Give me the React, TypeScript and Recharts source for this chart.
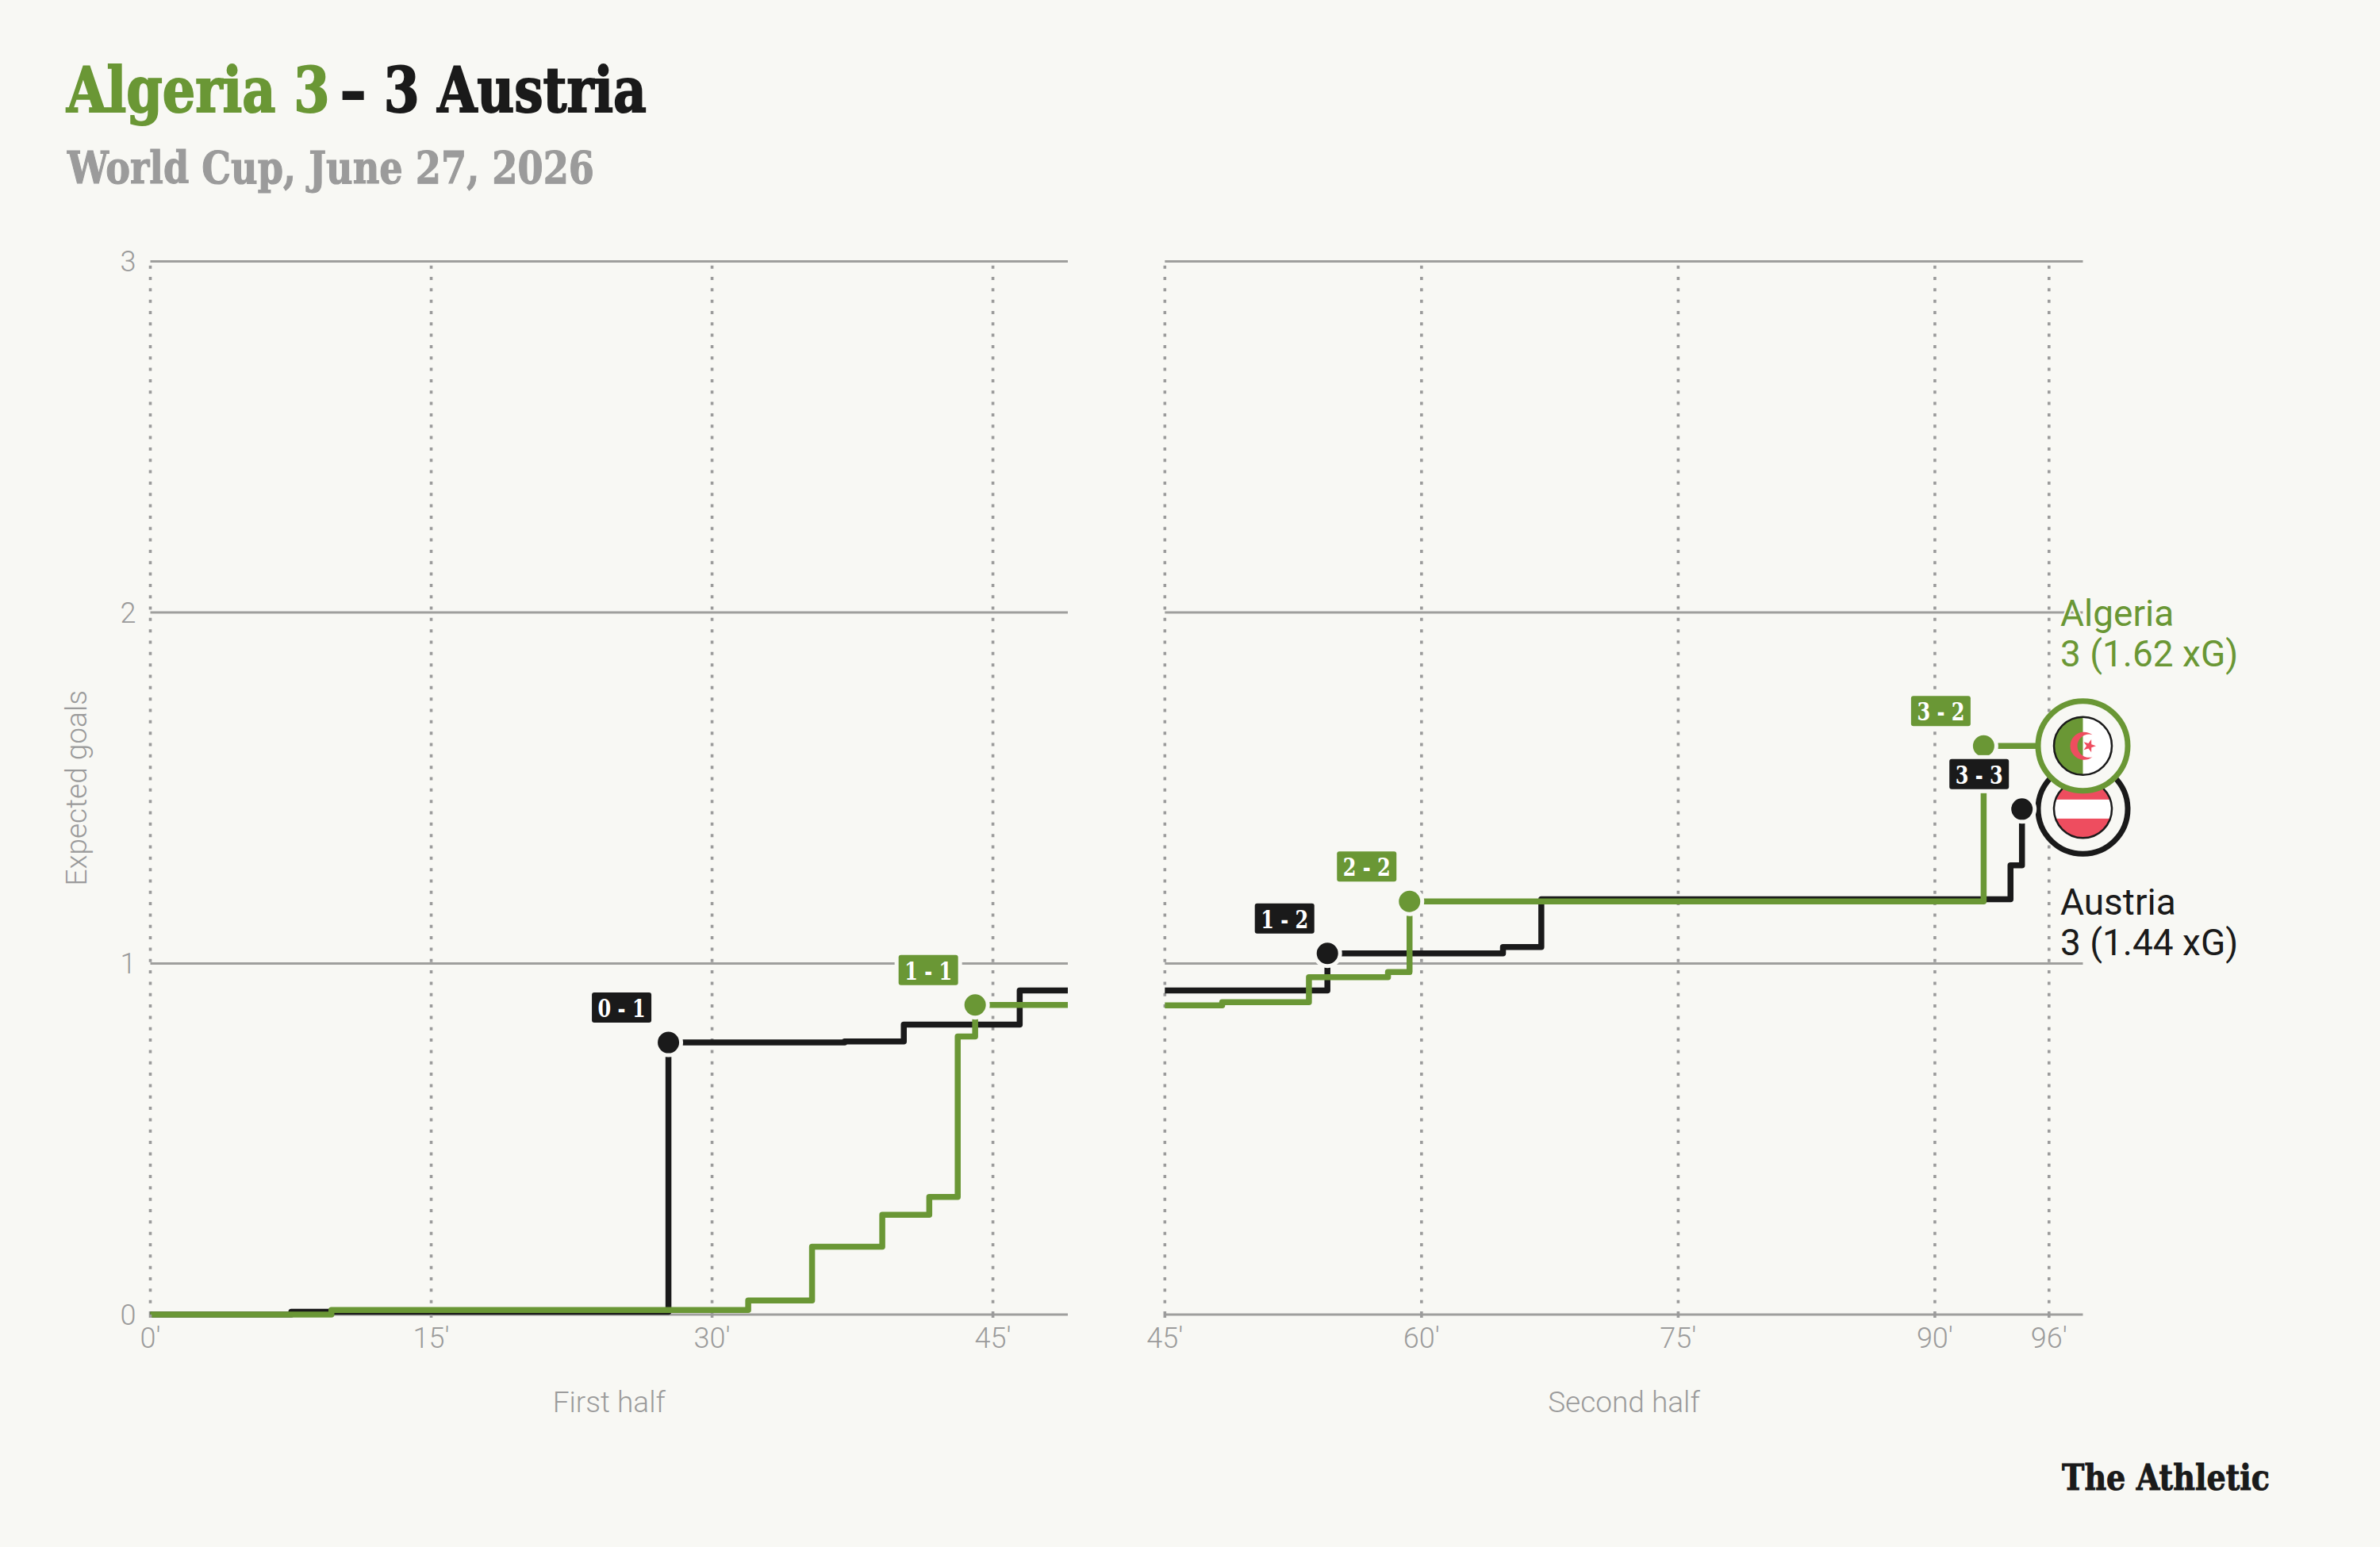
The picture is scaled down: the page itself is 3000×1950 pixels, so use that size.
import {
  LineChart,
  Line,
  XAxis,
  YAxis,
  CartesianGrid,
  ReferenceLine,
  ReferenceDot,
} from 'recharts';

// Cumulative xG. Each half is its own chart.
const algeriaFirstMinutes = [0, 9.67, 31.93, 35.34, 39.09, 41.6, 43.12, 44.05, 49];
const algeriaFirstXg = [0, 0.013, 0.04, 0.193, 0.284, 0.335, 0.792, 0.882, 0.882];
const austriaFirstMinutes = [0, 7.53, 27.67, 37.08, 40.24, 46.43, 49];
const austriaFirstXg = [0, 0.008, 0.775, 0.778, 0.826, 0.923, 0.923];

const algeriaSecondMinutes = [45, 48.35, 53.42, 58.04, 59.3, 92.85, 98.65];
const algeriaSecondXg = [0.881, 0.89, 0.961, 0.976, 1.177, 1.62, 1.62];
const austriaSecondMinutes = [45, 54.5, 64.76, 67, 94.42, 95.09, 98.65];
const austriaSecondXg = [0.923, 1.029, 1.047, 1.183, 1.28, 1.44, 1.44];

const firstHalfTicks = [0, 15, 30, 45];
const secondHalfTicks = [45, 60, 75, 90, 96.67];
const yTicks = [0, 1, 2, 3];

const firstHalfGoals = [
  { minute: 27.67, xg: 0.775, score: '0 - 1', team: 'austria' },
  { minute: 44.05, xg: 0.882, score: '1 - 1', team: 'algeria' },
];
const secondHalfGoals = [
  { minute: 54.5, xg: 1.029, score: '1 - 2', team: 'austria' },
  { minute: 59.3, xg: 1.177, score: '2 - 2', team: 'algeria' },
  { minute: 92.85, xg: 1.62, score: '3 - 2', team: 'algeria' },
  { minute: 95.09, xg: 1.44, score: '3 - 3', team: 'austria' },
];

const BG = '#f8f8f4';
const GREEN = '#6a9735';
const BLACK = '#1a1a1a';
const GREY = '#9b9b9b';
const RED = '#ee4d5f';
const SANS = 'Roboto, sans-serif';
const SLAB = '"DejaVu Serif", serif';

const toRows = (minutes: number[], xg: number[]) =>
  minutes.map((minute, i) => ({ minute, xg: xg[i] }));

const tickStyle = { fontSize: 36, fill: GREY, fontFamily: SANS, fontWeight: 300 };
const axisLabelStyle = { fontSize: 37, fill: GREY, fontFamily: SANS, fontWeight: 300 };

const teamColor = (team: string) => (team === 'algeria' ? GREEN : BLACK);

function GoalDot({ cx, cy, team }: any) {
  return <circle cx={cx} cy={cy} r={16} fill={teamColor(team)} stroke={BG} strokeWidth={5} />;
}

function ScoreTag({ cx, cy, team, score, dx }: any) {
  const w = 75;
  const h = 38;
  const x = cx + dx - w / 2;
  const y = cy - 44 - h / 2;
  return (
    <g>
      <rect x={x - 5} y={y - 5} width={w + 10} height={h + 10} fill={BG} />
      <rect x={x} y={y} width={w} height={h} rx={3} fill={teamColor(team)} />
      <text
        x={cx + dx}
        y={y + 31}
        textAnchor="middle"
        fontFamily={SLAB}
        fontWeight={700}
        fontSize={32}
        fill="#fff"
        textLength={60}
        lengthAdjust="spacingAndGlyphs"
      >
        {score}
      </text>
    </g>
  );
}

function Ring({ cx, cy, color, children }: any) {
  return (
    <g>
      <circle cx={cx} cy={cy} r={56.5} fill={BG} stroke={color} strokeWidth={7} />
      {children}
      <circle cx={cx} cy={cy} r={36.5} fill="none" stroke={BLACK} strokeWidth={2.5} />
    </g>
  );
}

function AustriaFlag({ cx, cy }: any) {
  return (
    <Ring cx={cx} cy={cy} color={BLACK}>
      <clipPath id="austria-clip">
        <circle cx={cx} cy={cy} r={36.5} />
      </clipPath>
      <g clipPath="url(#austria-clip)">
        <rect x={cx - 37} y={cy - 37} width={74} height={74} fill={RED} />
        <rect x={cx - 37} y={cy - 12} width={74} height={24} fill="#fff" />
      </g>
    </Ring>
  );
}

function AlgeriaFlag({ cx, cy }: any) {
  const star = [0, 1, 2, 3, 4, 5, 6, 7, 8, 9]
    .map((i) => {
      const r = i % 2 === 0 ? 8.5 : 3.4;
      const a = (i * Math.PI) / 5;
      return `${cx + 8 + r * Math.cos(a)},${cy + r * Math.sin(a)}`;
    })
    .join(' ');
  return (
    <Ring cx={cx} cy={cy} color={GREEN}>
      <clipPath id="algeria-clip">
        <circle cx={cx} cy={cy} r={36.5} />
      </clipPath>
      <g clipPath="url(#algeria-clip)">
        <rect x={cx - 37} y={cy - 37} width={74} height={74} fill="#fff" />
        <rect x={cx - 37} y={cy - 37} width={37} height={74} fill={GREEN} />
      </g>
      <path
        d={`M ${cx + 12} ${cy - 14} A 17.5 17.5 0 1 0 ${cx + 12} ${cy + 14} A 14.66 14.66 0 1 1 ${cx + 12} ${cy - 14} Z`}
        fill={RED}
      />
      <polygon points={star} fill={RED} />
    </Ring>
  );
}

const dotted = { stroke: GREY, strokeWidth: 3.6, strokeDasharray: '4 10.33' };
const tickDots = { stroke: GREY, strokeWidth: 3.6, strokeDasharray: '0 4 4 20' };
const LINE_WIDTH = 7.5;

function Grid() {
  return <CartesianGrid vertical={false} stroke="#9f9f9d" strokeWidth={3} />;
}

export default function App() {
  return (
    <div style={{ position: 'relative', width: 3000, height: 1950, background: BG, overflow: 'hidden' }}>
      <style>{'body{margin:0}'}</style>

      <div style={{ position: 'absolute', left: 0, top: 0 }}>
        <LineChart
          width={1400}
          height={1950}
          margin={{ top: 329.6, right: 54, bottom: 193, left: 89.5 }}
        >
          {Grid()}
          {firstHalfTicks.map((t) => (
            <ReferenceLine key={t} x={t} {...dotted} />
          ))}
          <XAxis
            type="number"
            dataKey="minute"
            domain={[0, 49]}
            ticks={firstHalfTicks}
            interval={0}
            height={100}
            axisLine={false}
            tickLine={tickDots}
            tickSize={8}
            tickMargin={8}
            tick={tickStyle}
            tickFormatter={(v: number) => `${Math.floor(v)}'`}
            label={{ value: 'First half', position: 'insideBottom', offset: -23, style: axisLabelStyle }}
          />
          <YAxis
            type="number"
            domain={[0, 3]}
            ticks={yTicks}
            width={100}
            axisLine={false}
            tickLine={false}
            tickMargin={12}
            tick={tickStyle}
            label={{
              value: 'Expected goals',
              angle: -90,
              position: 'insideLeft',
              offset: 6,
              style: { ...axisLabelStyle, textAnchor: 'middle' },
            }}
          />
          <Line
            data={toRows(austriaFirstMinutes, austriaFirstXg)}
            dataKey="xg"
            type="stepAfter"
            stroke={BLACK}
            strokeWidth={LINE_WIDTH}
            strokeLinejoin="round"
            dot={false}
            isAnimationActive={false}
          />
          <Line
            data={toRows(algeriaFirstMinutes, algeriaFirstXg)}
            dataKey="xg"
            type="stepAfter"
            stroke={GREEN}
            strokeWidth={LINE_WIDTH}
            strokeLinejoin="round"
            dot={false}
            isAnimationActive={false}
          />
          {firstHalfGoals.map((g) => (
            <ReferenceDot
              key={g.score}
              x={g.minute}
              y={g.xg}
              shape={(p: any) => <GoalDot {...p} team={g.team} />}
            />
          ))}
          {firstHalfGoals.map((g) => (
            <ReferenceDot
              key={g.score}
              x={g.minute}
              y={g.xg}
              shape={(p: any) => <ScoreTag {...p} team={g.team} score={g.score} dx={-59} />}
            />
          ))}
        </LineChart>
      </div>

      <div style={{ position: 'absolute', left: 1400, top: 0 }}>
        <LineChart
          width={1500}
          height={1950}
          margin={{ top: 329.6, right: 274.5, bottom: 193, left: 68.3 }}
        >
          {Grid()}
          {secondHalfTicks.map((t) => (
            <ReferenceLine key={t} x={t} {...dotted} />
          ))}
          <XAxis
            type="number"
            dataKey="minute"
            domain={[45, 98.65]}
            ticks={secondHalfTicks}
            interval={0}
            height={100}
            axisLine={false}
            tickLine={tickDots}
            tickSize={8}
            tickMargin={8}
            tick={tickStyle}
            tickFormatter={(v: number) => `${Math.floor(v)}'`}
            label={{ value: 'Second half', position: 'insideBottom', offset: -23, style: axisLabelStyle }}
          />
          <YAxis type="number" domain={[0, 3]} ticks={yTicks} width={0} hide />
          <Line
            data={toRows(austriaSecondMinutes, austriaSecondXg)}
            dataKey="xg"
            type="stepAfter"
            stroke={BLACK}
            strokeWidth={LINE_WIDTH}
            strokeLinejoin="round"
            dot={false}
            isAnimationActive={false}
          />
          <Line
            data={toRows(algeriaSecondMinutes, algeriaSecondXg)}
            dataKey="xg"
            type="stepAfter"
            stroke={GREEN}
            strokeWidth={LINE_WIDTH}
            strokeLinejoin="round"
            dot={false}
            isAnimationActive={false}
          />
          <ReferenceDot x={98.65} y={1.44} shape={(p: any) => <AustriaFlag {...p} />} />
          <ReferenceDot x={98.65} y={1.62} shape={(p: any) => <AlgeriaFlag {...p} />} />
          {secondHalfGoals.map((g) => (
            <ReferenceDot
              key={g.score}
              x={g.minute}
              y={g.xg}
              shape={(p: any) => <GoalDot {...p} team={g.team} />}
            />
          ))}
          {secondHalfGoals.map((g) => (
            <ReferenceDot
              key={g.score}
              x={g.minute}
              y={g.xg}
              shape={(p: any) => <ScoreTag {...p} team={g.team} score={g.score} dx={-54} />}
            />
          ))}
        </LineChart>
      </div>

      {/* Titles, end labels and logo */}
      <svg
        width={3000}
        height={1950}
        style={{ position: 'absolute', left: 0, top: 0, pointerEvents: 'none' }}
      >
        <g fontFamily={SLAB} fontWeight={700}>
          <text transform="translate(84 140.7) scale(0.835 1)" fontSize={78} fill={GREEN} stroke={GREEN} strokeWidth={2}>
            Algeria 3
          </text>
          <text transform="translate(429 140.7) scale(0.828 1)" fontSize={78} fill={BLACK} stroke={BLACK} strokeWidth={2}>
            – 3 Austria
          </text>
          <text x={85} y={231} fontSize={56} fill={GREY} stroke={GREY} strokeWidth={1.2} textLength={664} lengthAdjust="spacingAndGlyphs">
            World Cup, June 27, 2026
          </text>
          <text x={2599} y={1877.7} fontSize={45} fill={BLACK} stroke={BLACK} strokeWidth={1} textLength={262} lengthAdjust="spacingAndGlyphs">
            The Athletic
          </text>
        </g>
        <g fontFamily={SANS} fontSize={46} stroke={BG} strokeWidth={4} paintOrder="stroke">
          <text x={2597} y={789} fill={GREEN}>Algeria</text>
          <text x={2597} y={839.5} fill={GREEN}>3 (1.62 xG)</text>
          <text x={2597} y={1153} fill={BLACK}>Austria</text>
          <text x={2597} y={1203.5} fill={BLACK}>3 (1.44 xG)</text>
        </g>
      </svg>
    </div>
  );
}
